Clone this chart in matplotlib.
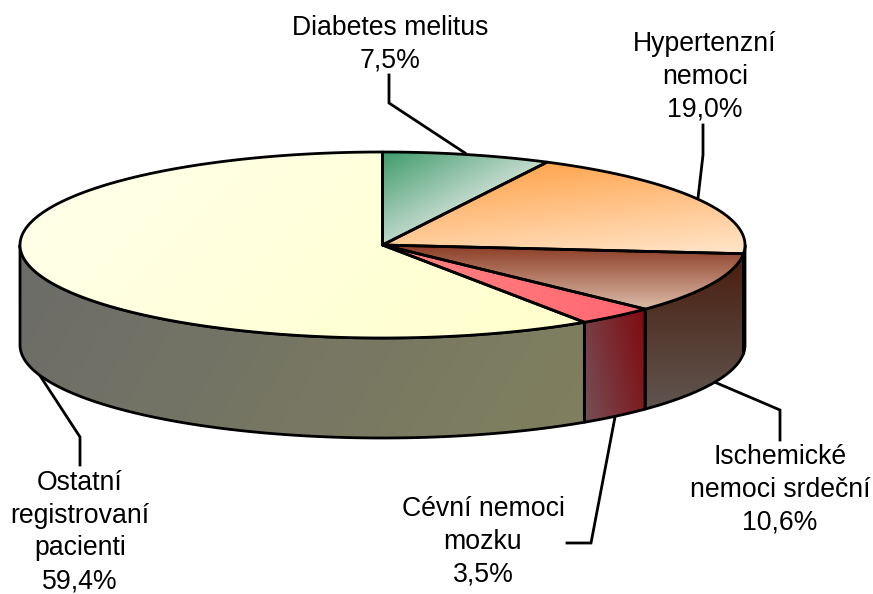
import matplotlib
matplotlib.use("Agg")
import matplotlib.pyplot as plt
from matplotlib.patches import Polygon
import numpy as np

plt.rcParams['font.family'] = ['Liberation Sans', 'DejaVu Sans']

etiquetas = ["Diabetes melitus\n7,5%", "Hypertenzní\nnemoci\n19,0%", "Ischemické\nnemoci srdeční\n10,6%",
             "Cévní nemoci\nmozku\n3,5%", "Ostatní\nregistrovaní\npacienti\n59,4%"]
valores = [7.5, 19.0, 10.6, 3.5, 59.4]

# (color inicio, color fin, direccion del degradado)
colores_top = [("#3F9B6B", "#C6DCCF", (0.55, 1)),
               ("#FFA650", "#FFE6CC", (0.1, 1)),
               ("#8A3A22", "#DCBBA8", (0, 1)),
               ("#FF8484", "#FF6670", (1, 0)),
               ("#FFFFE8", "#FFFFCC", (1, 1))]
colores_lado = [("#3F9B6B", "#DCE8E0", (1, 0)),
                ("#4A1D0E", "#5F5650", (0, 1)),
                ("#4A1D0E", "#5F5650", (0, 1)),
                ("#755058", "#800A0E", (1, -0.2)),
                ("#6C6C69", "#80805F", (1, 0.6))]

pos_texto = [(390, 44), (705, 77), (780, 490), (483, 542), (80, 532)]
lideres = [[(389, 75), (389, 103), (465, 153)],
           [(703, 125), (703, 155), (698, 198)],
           [(780, 440), (780, 410), (712, 381)],
           [(567, 543), (591, 543), (615, 417)],
           [(80, 465), (80, 437), (35, 368)]]

cx, cy, rx, ry, alto = 382.5, 245, 362.5, 93, 100


def elipse(t):
    # t en grados, 0 arriba y en sentido horario
    t = np.radians(t)
    return cx + rx * np.sin(t), cy - ry * np.cos(t)


def degradado(ax, puntos, c1, c2, direccion, zorder):
    puntos = np.array(puntos)
    x0, y0 = puntos.min(axis=0)
    x1, y1 = puntos.max(axis=0)
    xx, yy = np.meshgrid(np.linspace(x0, x1, 300), np.linspace(y0, y1, 300))
    w = xx * direccion[0] + yy * direccion[1]
    # el degradado va de vertice a vertice del poligono
    proy = puntos[:, 0] * direccion[0] + puntos[:, 1] * direccion[1]
    w = np.clip((w - proy.min()) / (proy.max() - proy.min()), 0, 1)
    a = np.array(matplotlib.colors.to_rgb(c1))
    b = np.array(matplotlib.colors.to_rgb(c2))
    img = a + (b - a) * w[..., None]
    im = ax.imshow(img, extent=(x0, x1, y1, y0), aspect="auto", zorder=zorder, interpolation="bilinear")
    pol = Polygon(puntos, closed=True, fc="none", ec="black", lw=2.0, joinstyle="round", zorder=zorder + 0.5)
    ax.add_patch(pol)
    im.set_clip_path(pol)


fig = plt.figure(figsize=(8.73, 5.94), dpi=100)
ax = fig.add_axes([0, 0, 1, 1])

angulos = np.cumsum([0] + valores) / sum(valores) * 360

for i in range(len(valores)):
    ini, fin = angulos[i], angulos[i + 1]

    # cara lateral, solo lo que queda visible
    a, b = max(ini, 90), min(fin, 270)
    if b > a:
        t = np.linspace(a, b, 120)
        xs, ys = elipse(t)
        lado = list(zip(xs, ys)) + list(zip(xs[::-1], ys[::-1] + alto))
        degradado(ax, lado, *colores_lado[i], zorder=2 + i * 0.01)

for i in range(len(valores)):
    ini, fin = angulos[i], angulos[i + 1]
    t = np.linspace(ini, fin, 200)
    xs, ys = elipse(t)
    cara = [(cx, cy)] + list(zip(xs, ys))
    degradado(ax, cara, *colores_top[i], zorder=4 + i * 0.01)

for linea in lideres:
    lx, ly = zip(*linea)
    ax.plot(lx, ly, color="black", lw=2.0, zorder=1, solid_joinstyle="miter")

for texto, (x, y) in zip(etiquetas, pos_texto):
    ax.text(x, y, texto, ha="center", va="center", fontsize=19.2, linespacing=1.34, color="black", zorder=6)

ax.set_xlim(0, 873)
ax.set_ylim(594, 0)
ax.axis("off")

plt.savefig("out.png", dpi=100)
plt.close()
